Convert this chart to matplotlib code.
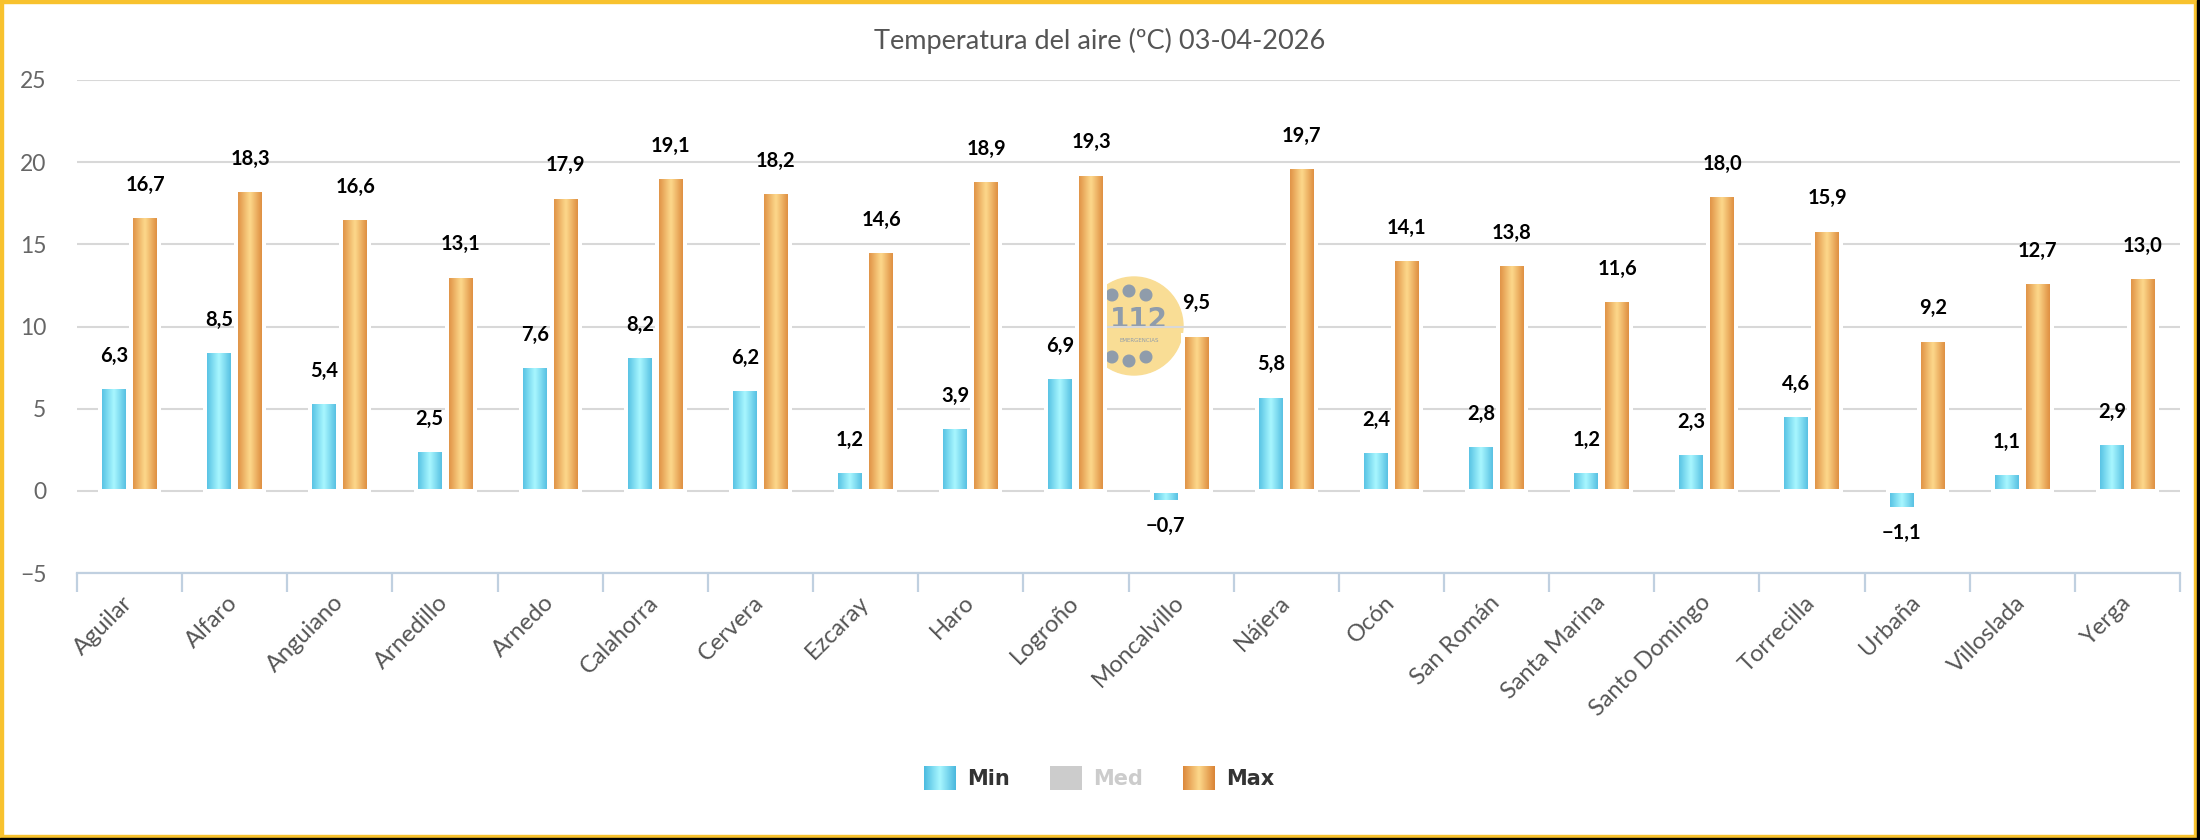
import numpy as np
import matplotlib
matplotlib.use("Agg")
import matplotlib.pyplot as plt
from matplotlib.colors import LinearSegmentedColormap
from matplotlib.patches import Circle, Rectangle

# data
stations = ["Aguilar", "Alfaro", "Anguiano", "Arnedillo", "Arnedo", "Calahorra",
            "Cervera", "Ezcaray", "Haro", "Logroño", "Moncalvillo", "Nájera", "Ocón",
            "San Román", "Santa Marina", "Santo Domingo", "Torrecilla", "Urbaña",
            "Villoslada", "Yerga"]
t_min = [6.3, 8.5, 5.4, 2.5, 7.6, 8.2, 6.2, 1.2, 3.9, 6.9,
         -0.7, 5.8, 2.4, 2.8, 1.2, 2.3, 4.6, -1.1, 1.1, 2.9]
t_max = [16.7, 18.3, 16.6, 13.1, 17.9, 19.1, 18.2, 14.6, 18.9, 19.3,
         9.5, 19.7, 14.1, 13.8, 11.6, 18.0, 15.9, 9.2, 12.7, 13.0]
legend_names = ["Min", "Med", "Max"]
title = "Temperatura del aire (ºC) 03-04-2026"

# colours
cmap_min = LinearSegmentedColormap.from_list("min", ["#4BBBE0", "#A9F7FF", "#4AB8DE"])
cmap_max = LinearSegmentedColormap.from_list("max", ["#DC883B", "#FDD98C", "#DA8335"])
grad = np.linspace(0, 1, 64).reshape(1, -1)
fam = ["Lato", "DejaVu Sans"]

W, H = 2200, 840
fig = plt.figure(figsize=(W / 100, H / 100), dpi=100)
fig.patch.set_facecolor("white")
ax = fig.add_axes([77 / W, 267 / H, 2103 / W, 493 / H])
ax.set_facecolor("none")

x = np.arange(len(stations))
bw = 28 / 105.15
off = 15.5 / 105.15


def gradient_bars(xpos, vals, cmap):
    bars = ax.bar(xpos, vals, width=bw, color="none", edgecolor="white",
                  linewidth=2.9, zorder=3)
    for b in bars:
        x0, y0 = b.get_x(), b.get_y()
        x1, y1 = x0 + b.get_width(), y0 + b.get_height()
        im = ax.imshow(grad, cmap=cmap, extent=[x0, x1, min(y0, y1), max(y0, y1)],
                       aspect="auto", interpolation="bicubic", zorder=2.5)
        im.set_clip_path(b)
    return bars


gradient_bars(x - off, t_min, cmap_min)
gradient_bars(x + off, t_max, cmap_max)


def label(xpos, vals):
    for xi, v in zip(xpos, vals):
        s = f"{v:.1f}".replace(".", ",").replace("-", "\u2212")
        dy = 22.5 if v >= 0 else -17
        ax.annotate(s, xy=(xi, v), xytext=(0, dy), textcoords="offset points",
                    ha="center", va="center", fontsize=14.5, fontweight="bold",
                    family=fam, color="black", zorder=5)


label(x - off, t_min)
label(x + off, t_max)

ax.set_xlim(-0.5, len(stations) - 0.5)
ax.set_ylim(-5, 25)
ax.set_yticks(range(-5, 26, 5))
ax.set_axisbelow(True)
ax.grid(axis="y", color="#D8D8D8", linewidth=1.5)
for s in ["top", "right", "left"]:
    ax.spines[s].set_visible(False)
ax.spines["bottom"].set_color("#C0D0E0")
ax.spines["bottom"].set_linewidth(1.6)
ax.spines["bottom"].set_zorder(4)

ax.tick_params(axis="y", length=0, pad=22, labelsize=16.5, labelcolor="#666666")
for t in ax.get_yticklabels():
    t.set_family(fam)

ax.set_xticks(np.arange(len(stations) + 1) - 0.5)
ax.set_xticklabels([])
ax.tick_params(axis="x", which="major", length=13.7, width=1.6, color="#C0D0E0")
ax.set_xticks(x, minor=True)
ax.set_xticklabels(stations, minor=True, rotation=45, ha="right", va="center",
                   rotation_mode="anchor", fontsize=17, color="#555555", family=fam)
ax.tick_params(axis="x", which="minor", length=0, pad=19)

# watermark logo (112 emergencias)
tr = fig.dpi_scale_trans
cx, cy = 11.29, (H - 326) / 100
ax.add_patch(Circle((cx + 0.05, cy), 0.49, transform=tr, color="#F9DD95", zorder=0.1, clip_on=False))
for dx, dyy in [(-0.17, 0.31), (0.0, 0.35), (0.17, 0.31), (-0.17, -0.31), (0.0, -0.35), (0.17, -0.31)]:
    ax.add_patch(Circle((cx + dx, cy + dyy), 0.058, transform=tr, color="#8F9CAB",
                        zorder=0.2, clip_on=False))
ax.text(cx + 0.1, cy + 0.06, "112", transform=tr, ha="center", va="center", fontsize=20,
        fontweight="bold", color="#8F9CAB", zorder=0.2)
ax.text(cx + 0.1, cy - 0.14, "EMERGENCIAS", transform=tr, ha="center", va="center",
        fontsize=4, color="#8F9CAB", zorder=0.2)

# title
fig.text(1100 / W, 1 - 41 / H, title, ha="center", va="center", fontsize=19.5,
         color="#555555", family=fam)

# legend
leg_x = [924, 1050, 1183]
leg_cmaps = [cmap_min, None, cmap_max]
leg_colors = ["#333333", "#CCCCCC", "#333333"]
for name, lx, cm, tc in zip(legend_names, leg_x, leg_cmaps, leg_colors):
    lax = fig.add_axes([lx / W, (H - 790) / H, 32 / W, 24 / H])
    if cm is None:
        lax.imshow([[[0.8, 0.8, 0.8]]], aspect="auto")
    else:
        lax.imshow(grad, cmap=cm, aspect="auto", interpolation="bicubic")
    lax.axis("off")
    fig.text((lx + 43) / W, 1 - 779 / H, name, ha="left", va="center", fontsize=15,
             fontweight="bold", color=tc, family="DejaVu Sans")

# frame
fig.add_artist(Rectangle((0, 0), 2.5, H, transform=None, color="#F8C22E"))
fig.add_artist(Rectangle((0, H - 2.5), W, 2.5, transform=None, color="#F8C22E"))
fig.add_artist(Rectangle((W - 6, 0), 3, H, transform=None, color="#F8C22E"))
fig.add_artist(Rectangle((0, 2), W - 3, 3, transform=None, color="#F8C22E"))
fig.add_artist(Rectangle((W - 3, 0), 3, H, transform=None, color="black"))
fig.add_artist(Rectangle((0, 0), W, 2, transform=None, color="black"))

fig.savefig("out.png", dpi=100)
